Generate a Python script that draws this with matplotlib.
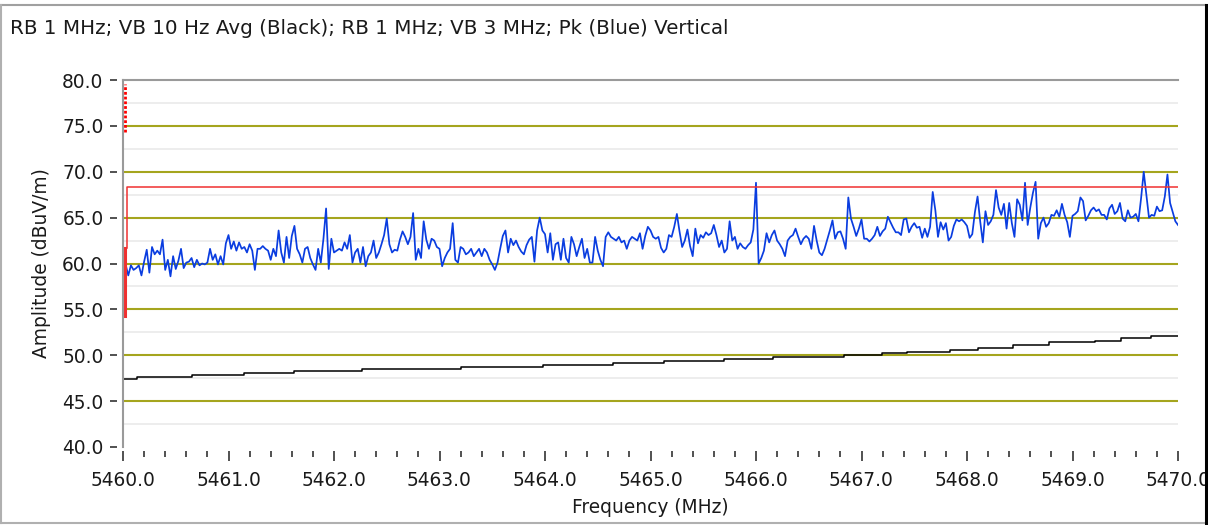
import numpy as np
import matplotlib
matplotlib.use("Agg")
import matplotlib.pyplot as plt
from matplotlib.ticker import MultipleLocator, FormatStrFormatter
from matplotlib.lines import Line2D

plt.rcParams['font.family'] = ['DejaVu Sans']

title = "RB 1 MHz; VB 10 Hz Avg (Black); RB 1 MHz; VB 3 MHz; Pk (Blue) Vertical"

# peak trace (blue), one value every 0.025 MHz from 5460.0 to 5470.0
blue_start = 5460.0
blue_step = 0.025
blue_amp = [
    60.3, 59.9, 58.7, 59.8, 59.3, 59.5, 59.8, 58.7, 60.2, 61.5,
    59.0, 61.8, 61.0, 61.4, 61.0, 62.6, 59.3, 60.4, 58.6, 60.8,
    59.4, 60.3, 61.6, 59.5, 60.1, 60.2, 60.6, 59.6, 60.4, 59.8,
    60.0, 59.9, 60.1, 61.6, 60.4, 61.0, 59.9, 60.8, 59.9, 62.2,
    63.1, 61.6, 62.4, 61.4, 62.3, 61.6, 61.8, 61.2, 62.1, 61.4,
    59.3, 61.6, 61.6, 61.9, 61.6, 61.4, 60.4, 61.6, 60.8, 63.6,
    61.2, 60.1, 62.9, 60.6, 63.0, 64.1, 61.6, 61.0, 60.1, 61.6,
    61.8, 60.6, 59.9, 59.3, 61.6, 60.1, 62.7, 66.0, 59.4, 62.7,
    61.2, 61.4, 61.6, 61.4, 62.3, 61.6, 63.1, 60.1, 61.2, 61.6,
    60.1, 61.8, 59.7, 60.8, 61.2, 62.5, 60.6, 61.2, 62.1, 63.1,
    64.9,
    62.1, 61.2, 61.5, 61.4, 62.6, 63.5, 62.9, 62.1, 62.9, 65.5,
    60.4, 61.6, 60.6, 64.6, 62.6, 61.6, 62.7, 62.5, 61.8, 61.6,
    59.7, 60.6, 61.2, 61.6, 64.4, 60.4, 60.1, 61.8, 61.6, 61.0,
    61.2, 61.6, 60.8, 61.2, 61.6, 60.8, 61.6, 61.2, 60.4, 59.9,
    59.3, 60.1, 61.6, 63.0, 63.6, 61.2, 62.7, 62.0, 62.5, 61.8,
    61.3, 61.0, 62.0, 62.6, 62.9, 60.2, 63.6, 65.0, 63.6, 63.2,
    61.2, 63.3, 60.4, 62.1, 62.3, 60.4, 62.7, 60.6, 60.1, 62.9,
    62.1, 60.8, 61.8, 62.7, 60.6, 61.6, 60.1, 60.1, 62.9, 61.4,
    60.4, 59.7, 62.9, 63.4, 62.9, 62.7, 62.5, 62.9, 62.3, 62.5,
    61.6, 62.5, 62.9, 62.7, 62.5, 63.3, 61.6, 63.0, 64.0,
    63.6, 62.9, 62.7, 62.9, 61.7, 61.2, 61.6, 63.1, 62.9, 64.0,
    65.4, 63.5, 61.8, 62.5, 63.7, 61.9, 60.8, 63.8, 62.2, 63.1,
    62.8, 63.4, 63.1, 63.3, 64.2, 63.1, 61.8, 62.5, 61.2, 61.6,
    64.6, 62.5, 62.9, 61.6, 62.2, 61.8, 61.6, 62.0, 62.3, 63.7,
    68.8, 60.0, 60.6, 61.4, 63.3, 62.3, 63.1, 63.6, 62.5, 62.1,
    61.6, 60.8, 62.5, 62.9, 63.1, 63.8, 62.9, 62.1, 62.7, 63.0,
    62.7, 61.6, 64.1, 62.5, 61.2, 60.9, 61.6, 62.6, 63.6, 64.7,
    62.7, 63.4, 63.5, 62.7, 61.6, 67.2, 64.9, 64.0, 63.0, 63.8,
    64.8, 62.7, 62.7, 62.4, 62.7, 63.1, 64.0, 63.0, 63.5, 63.8,
    65.1, 64.5, 63.9, 63.4, 63.4, 63.1, 64.8, 64.9, 63.4, 64.0,
    64.4, 63.9, 64.0, 62.8, 63.8, 62.9, 64.0, 67.8, 65.8, 62.9,
    64.5, 63.7, 64.4, 62.5, 62.9, 64.1, 64.8, 64.6, 64.8, 64.5,
    64.1, 62.8, 63.2, 65.6, 67.3, 64.6, 62.3, 65.7, 64.2, 64.6,
    65.3, 68.0, 66.1, 65.3, 66.5, 63.8, 66.6, 64.4, 62.9, 67.0,
    66.4, 64.7, 68.8, 64.2, 66.1, 67.7, 68.9, 62.7, 64.4, 65.0,
    64.0, 64.4, 65.3, 65.2, 65.8, 65.1, 66.5, 65.3, 64.5, 62.9,
    65.2, 65.4, 65.7, 67.2, 66.8, 64.7, 65.2, 65.8, 66.1, 65.7,
    65.9, 65.3, 65.3, 64.8, 66.0, 66.4, 65.4, 65.7, 66.6, 64.9,
    64.6, 65.8, 65.0, 65.1, 65.4, 64.6, 67.1, 70.0, 67.5, 65.0,
    65.3, 65.2, 66.2, 65.7, 65.8, 67.3, 69.7, 66.6, 65.6, 64.6,
    64.2,
]

# average trace (black), stepped
black_freq = [5460.00, 5460.13, 5460.65, 5461.15, 5461.62, 5462.27, 5463.20,
              5463.98, 5464.64, 5465.13, 5465.70, 5466.16, 5466.83, 5467.19,
              5467.43, 5467.84, 5468.10, 5468.44, 5468.78, 5469.21, 5469.46,
              5469.74, 5470.00]
black_amp = [47.43, 47.60, 47.86, 48.10, 48.30, 48.50, 48.70,
             48.96, 49.14, 49.36, 49.64, 49.86, 50.04, 50.25,
             50.40, 50.60, 50.80, 51.10, 51.40, 51.60, 51.86,
             52.14, 52.14]

# limit line (red)
limit_freq = [5460.04, 5460.04, 5470.0]
limit_amp = [61.7, 68.3, 68.3]
limit_low = [54.3, 61.7]
limit_dotted = [74.3, 79.6]

W, H = 1208, 525
fig = plt.figure(figsize=(W / 100, H / 100), dpi=100)
ax = fig.add_axes([123 / W, 1 - 447 / H, (1178 - 123) / W, (447 - 80) / H])

ax.set_xlim(5460, 5470)
ax.set_ylim(40, 80)

olive = '#a5a51e'
for y in np.arange(42.5, 80, 5):
    ax.axhline(y, color='#ededed', lw=1.4, zorder=1)
for y in np.arange(45, 80, 5):
    ax.axhline(y, color=olive, lw=1.5, zorder=1)

freq = blue_start + blue_step * np.arange(len(blue_amp))
ax.plot(freq, blue_amp, color='#0a3de0', lw=1.25, zorder=3)
ax.plot(black_freq, black_amp, color='black', lw=1.1, drawstyle='steps-post', zorder=3)

red = '#f03030'
ax.plot(limit_freq, limit_amp, color=red, lw=1.1, zorder=4)
ax.plot([5460.02, 5460.02], limit_low, color=red, lw=2.2, zorder=4, clip_on=False)
ax.plot([5460.02, 5460.02], limit_dotted, color='#ff0000', lw=2.0,
        linestyle=(0, (1, 0.7)), zorder=4, clip_on=False)

# axes frame: gray left and top, no right/bottom
for s in ['right', 'bottom']:
    ax.spines[s].set_visible(False)
ax.spines['top'].set_color('#9a9a9a')
ax.spines['top'].set_linewidth(1.5)
ax.spines['left'].set_position(('outward', 4))
ax.spines['left'].set_visible(False)
ax.spines['bottom'].set_position(('outward', 3))
ax.add_line(Line2D([0, 0], [0, 1], transform=ax.transAxes, color='#9a9a9a',
                   lw=1.5, clip_on=False, zorder=5))

ax.xaxis.set_major_locator(MultipleLocator(1.0))
ax.xaxis.set_minor_locator(MultipleLocator(0.2))
ax.xaxis.set_major_formatter(FormatStrFormatter('%.1f'))
ax.yaxis.set_major_locator(MultipleLocator(5.0))
ax.yaxis.set_major_formatter(FormatStrFormatter('%.1f'))

ax.tick_params(axis='x', which='major', length=7, width=1.2, color='#333333',
               pad=7, labelsize=13.4, labelcolor='#1a1a1a')
ax.tick_params(axis='x', which='minor', length=4, width=1.2, color='#333333')
ax.tick_params(axis='y', which='major', length=5, width=1.2, color='#333333',
               pad=5, labelsize=13.4, labelcolor='#1a1a1a')

ax.set_xlabel('Frequency (MHz)', fontsize=13.4, color='#1a1a1a', labelpad=6)
ax.set_ylabel('Amplitude (dBuV/m)', fontsize=13.4, color='#1a1a1a', labelpad=8)

fig.text(10 / W, 1 - 28 / H, title, fontsize=14.3, color='#1a1a1a',
         ha='left', va='center')

# window frame
fig.add_artist(Line2D([1 / W, 1205 / W], [1 - 5 / H, 1 - 5 / H], color='#a0a0a0', lw=1.5))
fig.add_artist(Line2D([1 / W, 1 / W], [1 - 5 / H, 1 - 523 / H], color='#b0b0b0', lw=1.5))
fig.add_artist(Line2D([1 / W, 1205 / W], [1 - 523 / H, 1 - 523 / H], color='#b0b0b0', lw=1.5))
fig.add_artist(Line2D([1205.5 / W, 1205.5 / W], [1 - 5 / H, 1 - 523 / H], color='black', lw=2.2))

fig.savefig('out.png', dpi=100)
